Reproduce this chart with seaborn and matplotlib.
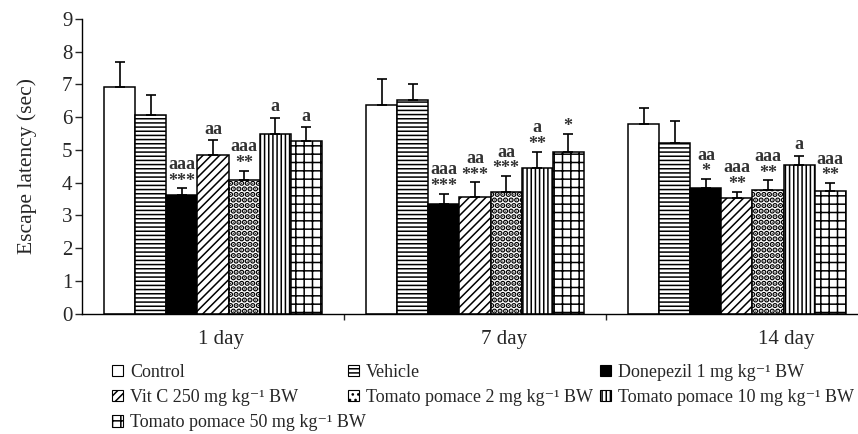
import pandas as pd
import seaborn as sns
import matplotlib.pyplot as plt
from matplotlib.patches import Patch

# data
days = ["1 day", "7 day", "14 day"]
groups = ["Control", "Vehicle", "Donepezil 1 mg kg⁻¹ BW", "Vit C 250 mg kg⁻¹ BW",
          "Tomato pomace 2 mg kg⁻¹ BW", "Tomato pomace 10 mg kg⁻¹ BW",
          "Tomato pomace 50 mg kg⁻¹ BW"]

mean_day1 = [6.93, 6.08, 3.61, 4.86, 4.09, 5.50, 5.26]
mean_day7 = [6.38, 6.53, 3.35, 3.56, 3.71, 4.45, 4.93]
mean_day14 = [5.79, 5.21, 3.84, 3.53, 3.77, 4.55, 3.74]

err_day1 = [0.75, 0.60, 0.22, 0.43, 0.28, 0.48, 0.43]
err_day7 = [0.80, 0.50, 0.32, 0.45, 0.50, 0.50, 0.57]
err_day14 = [0.50, 0.68, 0.28, 0.20, 0.30, 0.28, 0.25]

stars_day1 = ["", "", "***", "", "**", "", ""]
stars_day7 = ["", "", "***", "***", "***", "**", "*"]
stars_day14 = ["", "", "*", "**", "**", "", "**"]
letters_day1 = ["", "", "aaa", "aa", "aaa", "a", "a"]
letters_day7 = ["", "", "aaa", "aa", "aa", "a", ""]
letters_day14 = ["", "", "aa", "aaa", "aaa", "a", "aaa"]

means = [mean_day1, mean_day7, mean_day14]
errs = [err_day1, err_day7, err_day14]
stars = [stars_day1, stars_day7, stars_day14]
letters = [letters_day1, letters_day7, letters_day14]

colors = ["white", "white", "black", "white", "white", "white", "white"]
hatches = ["", "----", "", "////", "...", "||||", "++"]

rows = []
for d, day in enumerate(days):
    for g, grp in enumerate(groups):
        rows.append({"day": day, "group": grp, "latency": means[d][g]})
df = pd.DataFrame(rows)

sns.set_style("ticks")
plt.rcParams["font.family"] = ["Liberation Serif", "DejaVu Serif"]
plt.rcParams["hatch.linewidth"] = 1.1

fig = plt.figure(figsize=(8.58, 4.34), dpi=100)
ax = fig.add_axes([82 / 858, 120.3 / 434, 776 / 858, 294.7 / 434])

sns.barplot(data=df, x="day", y="latency", hue="group", order=days, hue_order=groups,
            palette=dict(zip(groups, colors)), saturation=1, width=0.83,
            errorbar=None, edgecolor="black", linewidth=1.1, legend=False, ax=ax)

bar_conts = list(ax.containers)
for g, cont in enumerate(bar_conts):
    for d, bar in enumerate(cont):
        bar.set_hatch(hatches[g])
        if hatches[g] == "...":
            try:
                bar.set_hatch_linewidth(2.8)
            except AttributeError:
                pass
        xc = bar.get_x() + bar.get_width() / 2
        top = bar.get_height()
        e = errs[d][g]
        ax.errorbar(xc, top, yerr=[[0], [e]], fmt="none", ecolor="black",
                    elinewidth=1.2, capsize=3.5, capthick=1.2, zorder=3)
        s = stars[d][g]
        a = letters[d][g]
        off = 2
        if s:
            ax.annotate(s, (xc, top + e), xytext=(0, -1), textcoords="offset points",
                        ha="center", va="bottom", fontsize=13, fontweight="bold",
                        color="#333333")
            off = 11
        if a:
            ax.annotate(a, (xc, top + e), xytext=(0, off), textcoords="offset points",
                        ha="center", va="bottom", fontsize=13, fontweight="bold",
                        color="#333333")

ax.set_ylim(0, 9)
ax.set_xlim(-0.5, 2.462)
ax.set_yticks(range(10))
ax.set_xticks([0.03, 1.11, 2.19])
ax.set_xticklabels(days)
ax.set_xticks([0.5, 1.5], minor=True)
ax.tick_params(axis="x", which="major", length=0, labelsize=15, pad=12)
ax.tick_params(axis="x", which="minor", length=4, direction="out", width=1)
ax.tick_params(axis="y", length=5, direction="out", width=1, labelsize=15, pad=2)
ax.set_xlabel("")
ax.set_ylabel("Escape latency (sec)", fontsize=15.5, labelpad=18)
sns.despine(ax=ax)
for sp in ["left", "bottom"]:
    ax.spines[sp].set_linewidth(1.0)
    ax.spines[sp].set_color("black")

handles = [Patch(facecolor=c, edgecolor="black", hatch=h, linewidth=0.8)
           for c, h in zip(colors, hatches)]
# legend pieces placed like the original: (entries, x px, y px of top)
legend_parts = [([0, 3, 6], 112, 364), ([1, 4], 348, 364),
                ([2], 600, 364), ([5], 600, 389)]
for idx, xpix, ypix in legend_parts:
    fig.legend([handles[i] for i in idx], [groups[i] for i in idx],
               loc="upper left", bbox_to_anchor=(xpix / 858, 1 - ypix / 434),
               frameon=False, fontsize=13, handlelength=0.6, handleheight=0.6,
               handletextpad=0.4, labelspacing=0.45, borderaxespad=0,
               borderpad=0)

fig.savefig("out.png", dpi=100)
